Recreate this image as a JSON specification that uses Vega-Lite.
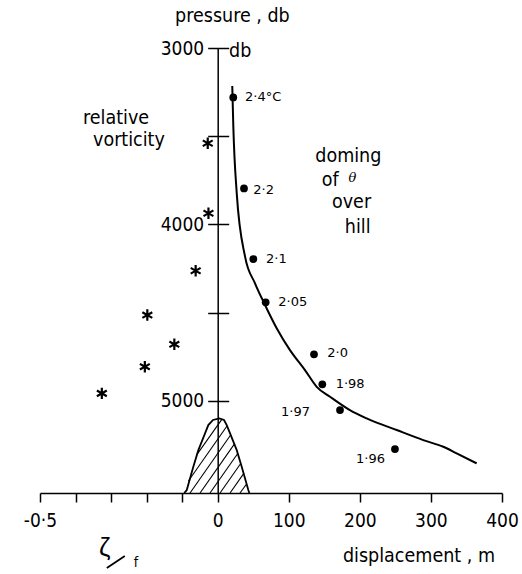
{
  "$schema": "https://vega.github.io/schema/vega-lite/v6.json",
  "width": 462,
  "height": 445,
  "autosize": {"type": "none"},
  "padding": {"left": 40, "top": 48, "right": 20, "bottom": 81},
  "background": "white",
  "config": {
    "view": {"stroke": null},
    "axis": {"domainColor": "black", "tickColor": "black", "labelColor": "black", "labelFont": "DejaVu Sans Condensed, Liberation Sans Narrow, sans-serif", "labelFontSize": 19, "grid": false, "domainWidth": 1.5, "tickWidth": 1.5, "title": null}
  },
  "datasets": {
    "curve": [
      {"d": 20.5, "p": 3215}, {"d": 22, "p": 3446}, {"d": 26.8, "p": 3824}, {"d": 38.5, "p": 4183},
      {"d": 52.5, "p": 4334}, {"d": 66.6, "p": 4457}, {"d": 83, "p": 4589}, {"d": 101.7, "p": 4713},
      {"d": 122.8, "p": 4826}, {"d": 139.3, "p": 4921}, {"d": 158, "p": 4977}, {"d": 186, "p": 5053},
      {"d": 209.6, "p": 5100}, {"d": 251.8, "p": 5166}, {"d": 289.2, "p": 5223}, {"d": 317.4, "p": 5261},
      {"d": 336.2, "p": 5298}, {"d": 364.3, "p": 5355}
    ],
    "dots": [
      {"d": 21.9, "p": 3280, "T": 2.4}, {"d": 37, "p": 3796, "T": 2.2}, {"d": 50.1, "p": 4197, "T": 2.1},
      {"d": 67.5, "p": 4442, "T": 2.05}, {"d": 135.5, "p": 4737, "T": 2.0}, {"d": 147.2, "p": 4907, "T": 1.98},
      {"d": 172.1, "p": 5053, "T": 1.97}, {"d": 249.4, "p": 5274, "T": 1.96}
    ],
    "stars": [
      {"zf": -0.028, "p": 3540}, {"zf": -0.026, "p": 3937}, {"zf": -0.062, "p": 4263}, {"zf": -0.198, "p": 4514},
      {"zf": -0.122, "p": 4680}, {"zf": -0.205, "p": 4807}, {"zf": -0.326, "p": 4958}
    ],
    "hill": [
      {"i": 0, "d": -47, "p": 5523}, {"i": 1, "d": -43.5, "p": 5506}, {"i": 2, "d": -34.3, "p": 5374},
      {"i": 3, "d": -27.2, "p": 5280}, {"i": 4, "d": -17.8, "p": 5185}, {"i": 5, "d": -13.2, "p": 5138},
      {"i": 6, "d": -6.6, "p": 5109}, {"i": 7, "d": 2.3, "p": 5100}, {"i": 8, "d": 8.9, "p": 5109},
      {"i": 9, "d": 12.7, "p": 5138}, {"i": 10, "d": 17.4, "p": 5185}, {"i": 11, "d": 26.8, "p": 5280},
      {"i": 12, "d": 33.8, "p": 5374}, {"i": 13, "d": 43.1, "p": 5506}, {"i": 14, "d": 44.5, "p": 5523}
    ],
    "hatch": [
      {"d": 31.4, "p": 5523, "d2": 40.6, "p2": 5472}, {"d": 17.4, "p": 5523, "d2": 37, "p2": 5410},
      {"d": 3.3, "p": 5523, "d2": 32.4, "p2": 5356}, {"d": -10.8, "p": 5523, "d2": 28.2, "p2": 5299},
      {"d": -24.8, "p": 5523, "d2": 23.4, "p2": 5246}, {"d": -38.9, "p": 5523, "d2": 18.2, "p2": 5194},
      {"d": -41.2, "p": 5455, "d2": 13.1, "p2": 5143}, {"d": -29.8, "p": 5308, "d2": 6.1, "p2": 5104}
    ],
    "bigText": [
      {"d": -60, "p": 2853, "t": "pressure , db"}, {"d": 15.9, "p": 3051, "t": "db"},
      {"d": -189.5, "p": 3432, "t": "relative"}, {"d": -175.4, "p": 3555, "t": "vorticity"},
      {"d": 137.3, "p": 3646, "t": "doming"}, {"d": 146.3, "p": 3782, "t": "of"},
      {"d": 160.8, "p": 3907, "t": "over"}, {"d": 178.9, "p": 4049, "t": "hill"},
      {"d": 176.2, "p": 5914, "t": "displacement , m"}
    ],
    "dotLabL": [
      {"d": 38.4, "p": 3278, "t": "2·4°C"}, {"d": 50.1, "p": 3805, "t": "2·2"}, {"d": 68, "p": 4198, "t": "2·1"},
      {"d": 85.3, "p": 4442, "t": "2·05"}, {"d": 154.2, "p": 4731, "t": "2·0"}, {"d": 166, "p": 4905, "t": "1·98"}
    ],
    "dotLabR": [
      {"d": 129.9, "p": 5062, "t": "1·97"}, {"d": 235.4, "p": 5330, "t": "1·96"}
    ]
  },
  "resolve": {"scale": {"x": "independent"}},
  "layer": [
    {
      "layer": [
        {
          "data": {"name": "hill"},
          "mark": {"type": "line", "color": "black", "strokeWidth": 1.8},
          "encoding": {
            "x": {"field": "d", "type": "quantitative", "scale": {"domain": [-250, 400], "nice": false, "zero": false},
              "axis": {"values": [-250, -200, -150, -100, -50, 0, 100, 200, 300, 400], "labelExpr": "datum.value == -250 ? '-0·5' : (datum.value < 0 ? '' : datum.label)", "tickSize": 9, "labelPadding": 9, "labelFlush": false}},
            "y": {"field": "p", "type": "quantitative", "scale": {"domain": [3000, 5523], "reverse": true, "nice": false, "zero": false},
              "axis": {"orient": "right", "values": [3000, 3500, 4000, 4500, 5000], "labels": false, "domain": false, "tickSize": 11, "offset": -284.3}},
            "order": {"field": "i", "type": "quantitative"}
          }
        },
        {
          "data": {"name": "hatch"},
          "mark": {"type": "rule", "color": "black", "strokeWidth": 1.1},
          "encoding": {
            "x": {"field": "d", "type": "quantitative"},
            "y": {"field": "p", "type": "quantitative", "axis": null},
            "x2": {"field": "d2"},
            "y2": {"field": "p2"}
          }
        },
        {
          "data": {"name": "curve"},
          "mark": {"type": "line", "color": "black", "strokeWidth": 2, "interpolate": "monotone"},
          "encoding": {
            "x": {"field": "d", "type": "quantitative"},
            "y": {"field": "p", "type": "quantitative",
              "axis": {"orient": "left", "values": [3000, 3500, 4000, 4500, 5000], "labelExpr": "datum.value % 1000 == 0 ? datum.value : ''", "tickSize": 10, "labelPadding": 4, "offset": -177.7}}
          }
        },
        {
          "data": {"name": "dots"},
          "mark": {"type": "point", "filled": true, "color": "black", "size": 60, "opacity": 1},
          "encoding": {
            "x": {"field": "d", "type": "quantitative"},
            "y": {"field": "p", "type": "quantitative", "axis": null}
          }
        },
        {
          "data": {"name": "bigText"},
          "mark": {"type": "text", "align": "left", "baseline": "alphabetic", "font": "DejaVu Sans Condensed, Liberation Sans Narrow, sans-serif", "fontSize": 19.5, "color": "black"},
          "encoding": {
            "x": {"field": "d", "type": "quantitative"},
            "y": {"field": "p", "type": "quantitative", "axis": null},
            "text": {"field": "t"}
          }
        },
        {
          "data": {"values": [{"d": 184, "p": 3760, "t": "θ"}]},
          "mark": {"type": "text", "align": "left", "baseline": "alphabetic", "font": "DejaVu Serif", "fontStyle": "italic", "fontSize": 13, "color": "black"},
          "encoding": {
            "x": {"field": "d", "type": "quantitative"},
            "y": {"field": "p", "type": "quantitative", "axis": null},
            "text": {"field": "t"}
          }
        },
        {
          "data": {"values": [{"d": -167, "p": 5880, "t": "ζ"}]},
          "mark": {"type": "text", "align": "left", "baseline": "alphabetic", "font": "Liberation Sans, DejaVu Sans", "fontSize": 26, "color": "black"},
          "encoding": {
            "x": {"field": "d", "type": "quantitative"},
            "y": {"field": "p", "type": "quantitative", "axis": null},
            "text": {"field": "t"}
          }
        },
        {
          "data": {"values": [{"d": -156, "p": 5948, "d2": -130.7, "p2": 5880}]},
          "mark": {"type": "rule", "color": "black", "strokeWidth": 1.8},
          "encoding": {
            "x": {"field": "d", "type": "quantitative"},
            "y": {"field": "p", "type": "quantitative", "axis": null},
            "x2": {"field": "d2"},
            "y2": {"field": "p2"}
          }
        },
        {
          "data": {"values": [{"d": -118, "p": 5942, "t": "f"}]},
          "mark": {"type": "text", "align": "left", "baseline": "alphabetic", "font": "DejaVu Sans Condensed, Liberation Sans Narrow, sans-serif", "fontSize": 14, "color": "black"},
          "encoding": {
            "x": {"field": "d", "type": "quantitative"},
            "y": {"field": "p", "type": "quantitative", "axis": null},
            "text": {"field": "t"}
          }
        },
        {
          "data": {"name": "dotLabL"},
          "mark": {"type": "text", "align": "left", "baseline": "middle", "font": "DejaVu Sans", "fontSize": 13, "color": "black"},
          "encoding": {
            "x": {"field": "d", "type": "quantitative"},
            "y": {"field": "p", "type": "quantitative", "axis": null},
            "text": {"field": "t"}
          }
        },
        {
          "data": {"name": "dotLabR"},
          "mark": {"type": "text", "align": "right", "baseline": "middle", "font": "DejaVu Sans", "fontSize": 13, "color": "black"},
          "encoding": {
            "x": {"field": "d", "type": "quantitative"},
            "y": {"field": "p", "type": "quantitative", "axis": null},
            "text": {"field": "t"}
          }
        }
      ]
    },
    {
      "data": {"name": "stars"},
      "mark": {"type": "point", "shape": "M0,-1L0,1M-0.87,-0.5L0.87,0.5M-0.87,0.5L0.87,-0.5", "filled": false, "color": "black", "strokeWidth": 2.2, "size": 130, "opacity": 1},
      "encoding": {
        "x": {"field": "zf", "type": "quantitative", "scale": {"domain": [-0.5, 0.8], "nice": false, "zero": false}, "axis": null},
        "y": {"field": "p", "type": "quantitative", "axis": null}
      }
    }
  ]
}
